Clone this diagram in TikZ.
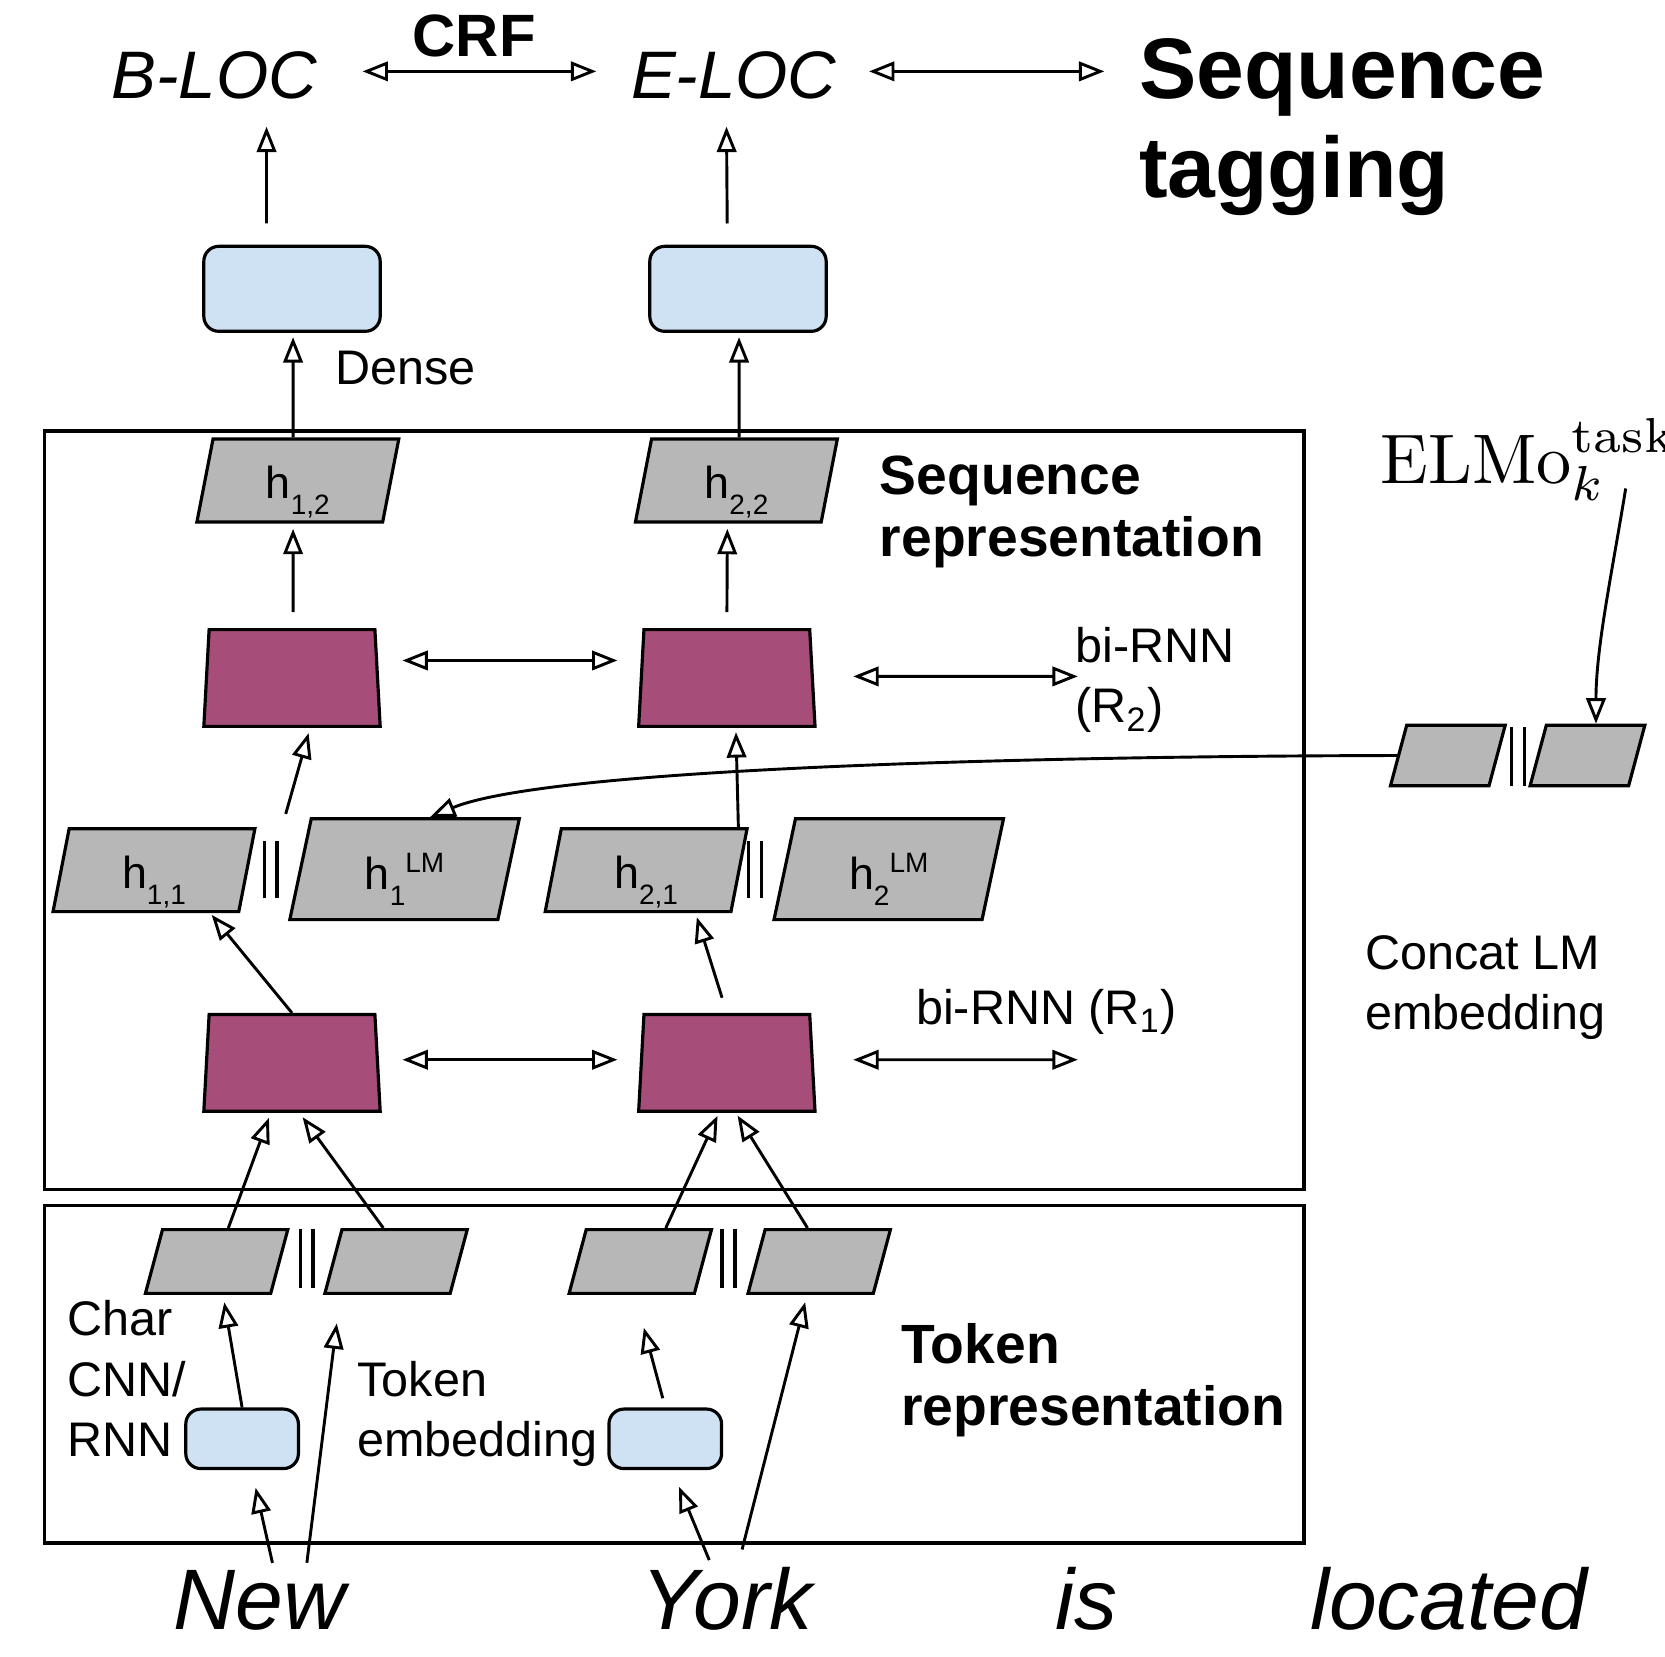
\documentclass[tikz,border=0pt]{standalone}
\usepackage{fontspec}
\newfontfamily\arial{Liberation Sans}
\usetikzlibrary{positioning,arrows.meta,shapes.geometric,calc}
\definecolor{denseblue}{HTML}{CFE2F3}
\definecolor{hgray}{HTML}{B7B7B7}
\definecolor{rnnpurple}{HTML}{A64D79}
\newcommand{\hsub}[1]{\raisebox{-4.3pt}{\fontsize{7.5}{8}\selectfont#1}}
\newcommand{\hsup}[1]{\raisebox{4.6pt}{\fontsize{7.5}{8}\selectfont#1}}
\tikzset{
  arr/.style={-{Triangle[open,length=6.8pt,width=5.2pt]},line width=0.78pt},
  biarr/.style={{Triangle[open,length=6.8pt,width=5.2pt]}-{Triangle[open,length=6.8pt,width=5.2pt]},line width=0.78pt},
  lbl/.style={font=\arial\fontsize{13}{16.2}\selectfont,inner sep=0pt,align=left,anchor=north west},
  headlbl/.style={font=\arial\bfseries\fontsize{14.8}{16.5}\selectfont,inner sep=0pt,align=left,anchor=north west},
  word/.style={font=\arial\itshape\fontsize{23}{27}\selectfont,inner sep=0pt,anchor=base west},
  tagname/.style={font=\arial\itshape\fontsize{18}{21}\selectfont,inner sep=0pt,anchor=base},
  densebox/.style={draw,rounded corners=4pt,fill=denseblue,line width=0.85pt,minimum width=1.66cm,minimum height=0.8cm},
  charbox/.style={densebox,minimum width=1.06cm,minimum height=0.56cm},
  hvec/.style={draw,fill=hgray,line width=0.85pt,trapezium,trapezium left angle=79,trapezium right angle=101,
    trapezium stretches body,text height=0.56cm,text depth=0.22cm,minimum width=1.9cm,minimum height=0.78cm,
    inner sep=0pt,font=\arial\fontsize{12}{14}\selectfont},
  lmvec/.style={hvec,text height=0.67cm,text depth=0.28cm,minimum width=2.16cm,minimum height=0.95cm,
    trapezium left angle=78,trapezium right angle=102},
  tokvec/.style={hvec,text height=0.6cm,text depth=0pt,minimum width=1.34cm,minimum height=0.6cm,
    trapezium left angle=75,trapezium right angle=105},
  elmovec/.style={tokvec,text height=0.57cm,minimum width=1.08cm,minimum height=0.57cm},
  rnn/.style={draw,fill=rnnpurple,line width=0.85pt,trapezium,trapezium left angle=78,trapezium right angle=78,
    trapezium stretches body,minimum width=1.66cm,minimum height=0.91cm},
  layerbox/.style={draw,line width=0.9pt},
}
\begin{document}
\begin{tikzpicture}[x=0.01cm,y=-0.01cm]
\useasboundingbox (0,0) rectangle (1568,1560);
\draw[layerbox] (42,406) rectangle (1228,1120);
\draw[layerbox] (42,1135) rectangle (1228,1453);

\node[tagname] (bloc) at (202,93) {B-LOC};
\node[tagname] (eloc) at (691,93) {E-LOC};
\node[font=\arial\bfseries\fontsize{23}{26.5}\selectfont,align=left,inner sep=0pt,anchor=north west] (tag) at (1072,36) {Sequence\\tagging};

\node[densebox] (dense1) at (275,272) {};
\node[densebox] (dense2) at (695,272) {};
\node[lbl,anchor=base west] (densel) at (315,362) {Dense};

\node[hvec] (h12) at (280.5,452.5) {h\hsub{1,2}};
\node[hvec] (h22) at (693.5,452.5) {h\hsub{2,2}};
\node[headlbl] (seqrep) at (828,429) {Sequence\\representation};

\node[rnn] (r2a) at (275,638.5) {};
\node[rnn] (r2b) at (684.5,638.5) {};
\coordinate (r2end) at (1015,637);
\node[lbl] (r2l) at (1012,590) {bi-RNN\\(R\textsubscript{2})};

\node[hvec] (h11) at (145,819.5) {h\hsub{1,1}};
\node[lmvec] (lm1) at (381,818.5) {h\hsub{1}\hsup{LM}};
\node[hvec] (h21) at (608.5,819.5) {h\hsub{2,1}};
\node[lmvec] (lm2) at (837,818.5) {h\hsub{2}\hsup{LM}};

\node[rnn] (r1a) at (275,1001) {};
\node[rnn] (r1b) at (684.5,1001) {};
\coordinate (r1end) at (1015,998);
\node[lbl,anchor=base west] (r1l) at (862,965) {bi-RNN (R\textsubscript{1})};

\node[tokvec] (t1) at (204,1188) {};
\node[tokvec] (t2) at (373,1188) {};
\node[tokvec] (t3) at (603,1188) {};
\node[tokvec] (t4) at (771.5,1188) {};
\node[charbox] (c1) at (228,1355) {};
\node[charbox] (c2) at (626.5,1355) {};
\node[lbl] (charl) at (63,1224) {Char\\CNN/\\RNN};
\node[lbl] (embl) at (336,1281) {Token\\embedding};
\node[headlbl] (tokrep) at (848,1246) {Token\\representation};

\node[word] (new) at (163,1535) {New};
\node[word] (york) at (603,1535) {York};
\node[word] (is) at (993,1535) {is};
\node[word] (located) at (1233,1535) {located};

\node[scale=1.88,inner sep=0pt,anchor=base west] (elmo) at (1299,455) {$\mathrm{ELMo}_k^{\mathrm{task}}$};
\coordinate (elmotail) at (1531,460);
\node[elmovec] (e1) at (1363.5,711.5) {};
\node[elmovec] (e2) at (1495,711.5) {};
\node[lbl] (concatl) at (1285,880) {Concat LM\\embedding};

\foreach \x/\ya/\yb in {255/792/846, 711/792/846, 289/1157/1213, 686/1157/1213, 1429.5/685/740}
  \draw[line width=0.95pt] (\x-6,\ya) -- (\x-6,\yb) (\x+6,\ya) -- (\x+6,\yb);

\draw[biarr,shorten <=0.42cm,shorten >=0.32cm] ([yshift=0.04cm]bloc.east) -- node[above=0.12cm,font=\arial\bfseries\fontsize{16}{18}\selectfont,inner sep=0pt] (crf) {CRF} ([yshift=0.04cm]eloc.west);
\draw[biarr,shorten <=0.3cm,shorten >=0.32cm] ([yshift=0.04cm]eloc.east) -- ([yshift=0.04cm]eloc.east -| tag.west);
\draw[arr,shorten <=0.2cm,shorten >=0.25cm] ([xshift=-0.24cm]dense1.north) -- ([xshift=0.49cm]bloc.south);
\draw[arr,shorten <=0.2cm,shorten >=0.25cm] ([xshift=-0.1cm]dense2.north) -- ([xshift=-0.07cm]eloc.south);
\draw[arr,shorten >=0.04cm] ([xshift=-0.045cm]h12.north) -- ([xshift=0.01cm]dense1.south);
\draw[arr,shorten >=0.04cm] ([xshift=0.025cm]h22.north) -- ([xshift=0.01cm]dense2.south);
\draw[arr,shorten <=0.15cm,shorten >=0.05cm] ([xshift=0.01cm]r2a.north) -- ([xshift=-0.045cm]h12.south);
\draw[arr,shorten <=0.15cm,shorten >=0.05cm] (r2b.north) -- ([xshift=-0.085cm]h22.south);
\draw[biarr,shorten <=0.22cm,shorten >=0.21cm] ([yshift=0.165cm]r2a.east) -- ([yshift=0.165cm]r2b.west);
\draw[biarr,shorten <=0.37cm] ([yshift=0.015cm]r2b.east) -- (r2end);
\draw[arr,shorten <=0.08cm,shorten >=0.05cm] ($(h11.top right corner)!0.5!(lm1.top left corner)$) -- ([xshift=0.17cm]r2a.south);
\draw[arr,shorten >=0.04cm] ([xshift=-0.1cm]h21.top right corner) -- ([xshift=0.085cm]r2b.south);
\draw[biarr,shorten <=0.22cm,shorten >=0.21cm] ([yshift=0.03cm]r1a.east) -- ([yshift=0.03cm]r1b.west);
\draw[biarr,shorten <=0.37cm] ([yshift=0.03cm]r1b.east) -- (r1end);
\draw[arr,shorten >=0.02cm] (r1a.north) -- ([xshift=0.53cm]h11.south);
\draw[arr,shorten <=0.15cm,shorten >=0.04cm] (r1b.north) -- ([xshift=0.465cm]h21.south);
\draw[arr,shorten >=0.05cm] ([xshift=0.11cm]t1.north) -- ([xshift=-0.2cm]r1a.south);
\draw[arr,shorten >=0.05cm] ([xshift=-0.12cm]t2.north) -- ([xshift=0.07cm]r1a.south);
\draw[arr,shorten >=0.03cm] ([xshift=0.24cm]t3.north) -- ([xshift=-0.075cm]r1b.south);
\draw[arr,shorten >=0.03cm] ([xshift=-0.11cm]t4.north) -- ([xshift=0.085cm]r1b.south);
\draw[arr,shorten >=0.07cm] (c1.north) -- ([xshift=0.06cm]t1.south);
\draw[arr,shorten <=0.09cm,shorten >=0.32cm] (c2.north) -- ([xshift=-0.05cm]t3.south);
\draw[arr,shorten <=0.07cm,shorten >=0.17cm] ([xshift=0.135cm]new.north) -- ([xshift=0.09cm]c1.south);
\draw[arr,shorten <=0.07cm,shorten >=0.27cm] ([xshift=0.435cm]new.north) -- ([xshift=-0.525cm]t2.south);
\draw[arr,shorten <=0.07cm,shorten >=0.17cm] ([xshift=-0.14cm]york.north) -- ([xshift=0.065cm]c2.south);
\draw[arr,shorten <=0.17cm,shorten >=0.07cm] ([xshift=0.1cm]york.north) -- ([xshift=-0.115cm]t4.south);
\draw[arr] (elmotail) .. controls (1518,540) and (1503,610) .. ([xshift=0.08cm]e2.north);
\draw[arr] (e1.west) .. controls (1000,712) and (520,722) .. ([xshift=0.24cm]lm1.north);
\end{tikzpicture}
\end{document}
